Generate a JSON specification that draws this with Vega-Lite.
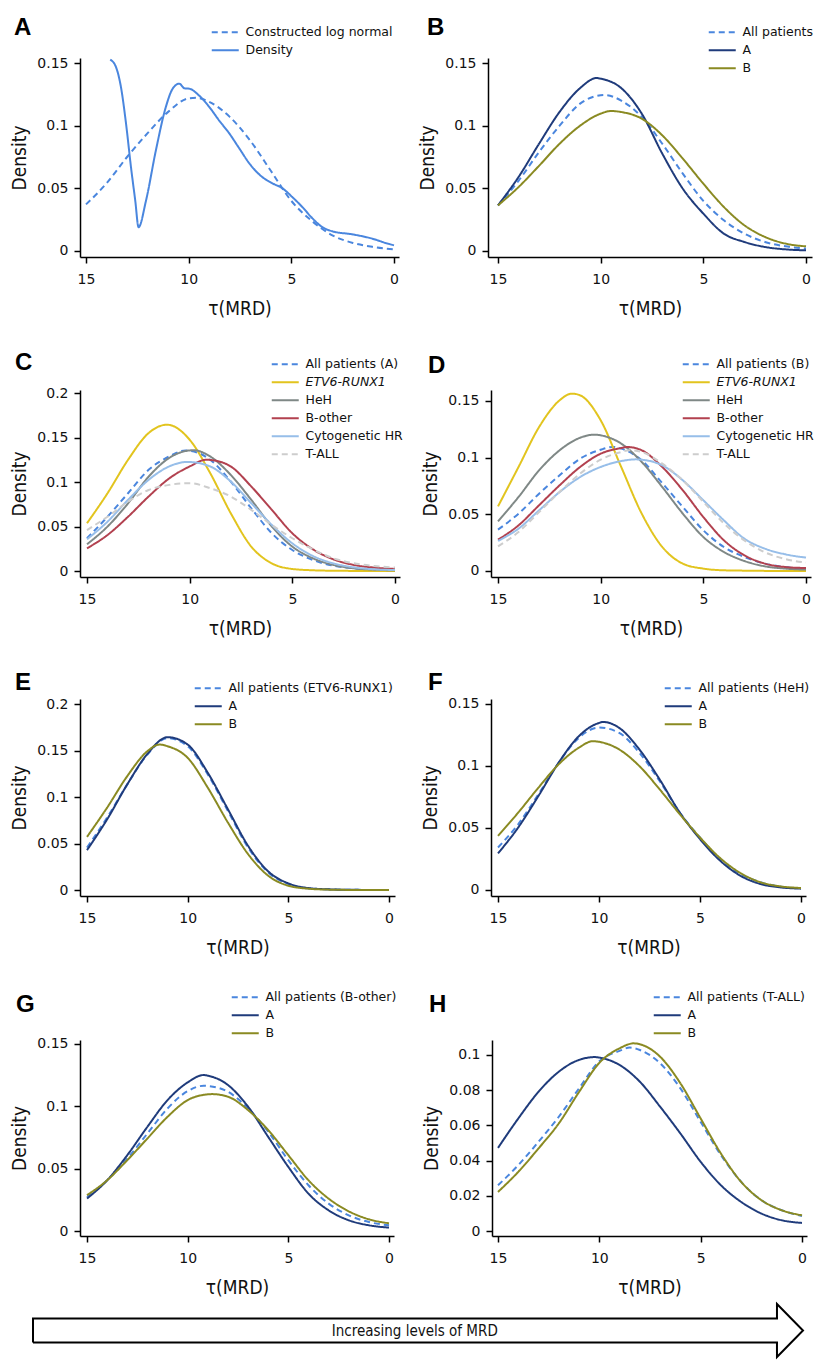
{
"$schema":"https://vega.github.io/schema/vega-lite/v6.json",
"background":"white",
"padding":{"left":10,"top":16,"right":5,"bottom":5},
"config":{
 "view":{"stroke":null},
 "font":"DejaVu Sans",
 "axis":{"grid":false,"domainColor":"#000","domainWidth":1.5,"tickColor":"#000","tickWidth":1.5,"tickSize":6,"labelFont":"DejaVu Sans","labelFontSize":14,"labelColor":"#111","titleFont":"DejaVu Sans Condensed","titleFontSize":19,"titleFontWeight":"normal","titleColor":"#111"},
 "axisX":{"labelBaseline":"alphabetic","labelPadding":20,"titleBaseline":"alphabetic","titleY":57,"format":"d","titleAlign":"center"},
 "axisY":{"labelPadding":6,"titleAngle":270,"titleBaseline":"bottom","titleX":-51,"format":"~g","titleAlign":"center"},
 "legend":{"labelFont":"DejaVu Sans","labelFontSize":12.5,"labelColor":"#111","labelLimit":400,"symbolSize":81,"symbolStrokeWidth":2,"labelOffset":14,"rowPadding":5,"padding":0},
 "title":{"font":"Liberation Sans","fontSize":24,"fontWeight":"bold","anchor":"start","frame":"group","color":"#000","baseline":"alphabetic","offset":0},
 "line":{"strokeWidth":2,"interpolate":"monotone"}
},
"data":{"values":[
{"panel":"A","series":"Constructed log normal","tau":15,"density":0.0372},
{"panel":"A","series":"Constructed log normal","tau":14,"density":0.054},
{"panel":"A","series":"Constructed log normal","tau":13,"density":0.075},
{"panel":"A","series":"Constructed log normal","tau":12,"density":0.094},
{"panel":"A","series":"Constructed log normal","tau":11,"density":0.111},
{"panel":"A","series":"Constructed log normal","tau":10,"density":0.1218},
{"panel":"A","series":"Constructed log normal","tau":9.6,"density":0.1222},
{"panel":"A","series":"Constructed log normal","tau":9,"density":0.119},
{"panel":"A","series":"Constructed log normal","tau":8,"density":0.107},
{"panel":"A","series":"Constructed log normal","tau":7,"density":0.088},
{"panel":"A","series":"Constructed log normal","tau":6,"density":0.064},
{"panel":"A","series":"Constructed log normal","tau":5,"density":0.040},
{"panel":"A","series":"Constructed log normal","tau":4,"density":0.024},
{"panel":"A","series":"Constructed log normal","tau":3,"density":0.0125},
{"panel":"A","series":"Constructed log normal","tau":2,"density":0.0064},
{"panel":"A","series":"Constructed log normal","tau":1,"density":0.0032},
{"panel":"A","series":"Constructed log normal","tau":0,"density":0.0013},
{"panel":"A","series":"Density","tau":13.82,"density":0.1527},
{"panel":"A","series":"Density","tau":13.54,"density":0.1468},
{"panel":"A","series":"Density","tau":13.3,"density":0.131},
{"panel":"A","series":"Density","tau":13.05,"density":0.1016},
{"panel":"A","series":"Density","tau":12.81,"density":0.067},
{"panel":"A","series":"Density","tau":12.6,"density":0.040},
{"panel":"A","series":"Density","tau":12.44,"density":0.019},
{"panel":"A","series":"Density","tau":12.08,"density":0.040},
{"panel":"A","series":"Density","tau":11.6,"density":0.080},
{"panel":"A","series":"Density","tau":11.11,"density":0.115},
{"panel":"A","series":"Density","tau":10.78,"density":0.1295},
{"panel":"A","series":"Density","tau":10.46,"density":0.1335},
{"panel":"A","series":"Density","tau":10.2,"density":0.1298},
{"panel":"A","series":"Density","tau":9.97,"density":0.1295},
{"panel":"A","series":"Density","tau":9.49,"density":0.124},
{"panel":"A","series":"Density","tau":9.0,"density":0.115},
{"panel":"A","series":"Density","tau":8.51,"density":0.104},
{"panel":"A","series":"Density","tau":8.03,"density":0.094},
{"panel":"A","series":"Density","tau":7.54,"density":0.082},
{"panel":"A","series":"Density","tau":7.05,"density":0.070},
{"panel":"A","series":"Density","tau":6.49,"density":0.060},
{"panel":"A","series":"Density","tau":5.92,"density":0.054},
{"panel":"A","series":"Density","tau":5.43,"density":0.050},
{"panel":"A","series":"Density","tau":4.95,"density":0.043},
{"panel":"A","series":"Density","tau":4.46,"density":0.035},
{"panel":"A","series":"Density","tau":3.97,"density":0.026},
{"panel":"A","series":"Density","tau":3.49,"density":0.019},
{"panel":"A","series":"Density","tau":3.0,"density":0.0157},
{"panel":"A","series":"Density","tau":2.03,"density":0.0133},
{"panel":"A","series":"Density","tau":1.05,"density":0.0098},
{"panel":"A","series":"Density","tau":0.41,"density":0.0064},
{"panel":"A","series":"Density","tau":0,"density":0.0045},
{"panel":"B","series":"All patients","tau":15,"density":0.0364},
{"panel":"B","series":"All patients","tau":14,"density":0.056},
{"panel":"B","series":"All patients","tau":13,"density":0.079},
{"panel":"B","series":"All patients","tau":12,"density":0.100},
{"panel":"B","series":"All patients","tau":11,"density":0.1176},
{"panel":"B","series":"All patients","tau":10,"density":0.1243},
{"panel":"B","series":"All patients","tau":9.8,"density":0.1245},
{"panel":"B","series":"All patients","tau":9,"density":0.120},
{"panel":"B","series":"All patients","tau":8,"density":0.107},
{"panel":"B","series":"All patients","tau":7,"density":0.0856},
{"panel":"B","series":"All patients","tau":6,"density":0.0617},
{"panel":"B","series":"All patients","tau":5,"density":0.040},
{"panel":"B","series":"All patients","tau":4,"density":0.0245},
{"panel":"B","series":"All patients","tau":3,"density":0.0138},
{"panel":"B","series":"All patients","tau":2,"density":0.0072},
{"panel":"B","series":"All patients","tau":1,"density":0.0037},
{"panel":"B","series":"All patients","tau":0,"density":0.0019},
{"panel":"B","series":"A","tau":15,"density":0.0364},
{"panel":"B","series":"A","tau":14,"density":0.059},
{"panel":"B","series":"A","tau":13,"density":0.0856},
{"panel":"B","series":"A","tau":12,"density":0.111},
{"panel":"B","series":"A","tau":11,"density":0.130},
{"panel":"B","series":"A","tau":10.2,"density":0.138},
{"panel":"B","series":"A","tau":10,"density":0.1375},
{"panel":"B","series":"A","tau":9,"density":0.130},
{"panel":"B","series":"A","tau":8,"density":0.1096},
{"panel":"B","series":"A","tau":7,"density":0.0777},
{"panel":"B","series":"A","tau":6,"density":0.0497},
{"panel":"B","series":"A","tau":5,"density":0.0298},
{"panel":"B","series":"A","tau":4,"density":0.0138},
{"panel":"B","series":"A","tau":3,"density":0.0072},
{"panel":"B","series":"A","tau":2,"density":0.0032},
{"panel":"B","series":"A","tau":1,"density":0.0013},
{"panel":"B","series":"A","tau":0,"density":0.0005},
{"panel":"B","series":"B","tau":15,"density":0.0364},
{"panel":"B","series":"B","tau":14,"density":0.051},
{"panel":"B","series":"B","tau":13,"density":0.068},
{"panel":"B","series":"B","tau":12,"density":0.0856},
{"panel":"B","series":"B","tau":11,"density":0.100},
{"panel":"B","series":"B","tau":10,"density":0.1096},
{"panel":"B","series":"B","tau":9.5,"density":0.1117},
{"panel":"B","series":"B","tau":9,"density":0.1109},
{"panel":"B","series":"B","tau":8,"density":0.1056},
{"panel":"B","series":"B","tau":7,"density":0.0923},
{"panel":"B","series":"B","tau":6,"density":0.0737},
{"panel":"B","series":"B","tau":5,"density":0.0537},
{"panel":"B","series":"B","tau":4,"density":0.0351},
{"panel":"B","series":"B","tau":3,"density":0.0205},
{"panel":"B","series":"B","tau":2,"density":0.0112},
{"panel":"B","series":"B","tau":1,"density":0.0059},
{"panel":"B","series":"B","tau":0,"density":0.0037},
{"panel":"C","series":"All patients (A)","tau":15,"density":0.0368},
{"panel":"C","series":"All patients (A)","tau":14,"density":0.061},
{"panel":"C","series":"All patients (A)","tau":13,"density":0.0874},
{"panel":"C","series":"All patients (A)","tau":12,"density":0.1137},
{"panel":"C","series":"All patients (A)","tau":11,"density":0.1287},
{"panel":"C","series":"All patients (A)","tau":10.2,"density":0.1355},
{"panel":"C","series":"All patients (A)","tau":10,"density":0.1352},
{"panel":"C","series":"All patients (A)","tau":9,"density":0.125},
{"panel":"C","series":"All patients (A)","tau":8,"density":0.1006},
{"panel":"C","series":"All patients (A)","tau":7,"density":0.0705},
{"panel":"C","series":"All patients (A)","tau":6,"density":0.0424},
{"panel":"C","series":"All patients (A)","tau":5,"density":0.0236},
{"panel":"C","series":"All patients (A)","tau":4,"density":0.0124},
{"panel":"C","series":"All patients (A)","tau":3,"density":0.006},
{"panel":"C","series":"All patients (A)","tau":2,"density":0.003},
{"panel":"C","series":"All patients (A)","tau":1,"density":0.0015},
{"panel":"C","series":"All patients (A)","tau":0,"density":0.0008},
{"panel":"C","series":"ETV6-RUNX1","tau":15,"density":0.0537},
{"panel":"C","series":"ETV6-RUNX1","tau":14,"density":0.0874},
{"panel":"C","series":"ETV6-RUNX1","tau":13,"density":0.125},
{"panel":"C","series":"ETV6-RUNX1","tau":12,"density":0.155},
{"panel":"C","series":"ETV6-RUNX1","tau":11.1,"density":0.1644},
{"panel":"C","series":"ETV6-RUNX1","tau":11,"density":0.1642},
{"panel":"C","series":"ETV6-RUNX1","tau":10,"density":0.1475},
{"panel":"C","series":"ETV6-RUNX1","tau":9,"density":0.110},
{"panel":"C","series":"ETV6-RUNX1","tau":8,"density":0.065},
{"panel":"C","series":"ETV6-RUNX1","tau":7,"density":0.0274},
{"panel":"C","series":"ETV6-RUNX1","tau":6,"density":0.0086},
{"panel":"C","series":"ETV6-RUNX1","tau":5,"density":0.0023},
{"panel":"C","series":"ETV6-RUNX1","tau":4,"density":0.0008},
{"panel":"C","series":"ETV6-RUNX1","tau":3,"density":0.0003},
{"panel":"C","series":"ETV6-RUNX1","tau":2,"density":0.0001},
{"panel":"C","series":"ETV6-RUNX1","tau":1,"density":0},
{"panel":"C","series":"ETV6-RUNX1","tau":0,"density":0},
{"panel":"C","series":"HeH","tau":15,"density":0.030},
{"panel":"C","series":"HeH","tau":14,"density":0.050},
{"panel":"C","series":"HeH","tau":13,"density":0.076},
{"panel":"C","series":"HeH","tau":12,"density":0.106},
{"panel":"C","series":"HeH","tau":11,"density":0.127},
{"panel":"C","series":"HeH","tau":10,"density":0.1355},
{"panel":"C","series":"HeH","tau":9.8,"density":0.1357},
{"panel":"C","series":"HeH","tau":9,"density":0.1287},
{"panel":"C","series":"HeH","tau":8,"density":0.108},
{"panel":"C","series":"HeH","tau":7,"density":0.080},
{"panel":"C","series":"HeH","tau":6,"density":0.050},
{"panel":"C","series":"HeH","tau":5,"density":0.0274},
{"panel":"C","series":"HeH","tau":4,"density":0.0143},
{"panel":"C","series":"HeH","tau":3,"density":0.0068},
{"panel":"C","series":"HeH","tau":2,"density":0.003},
{"panel":"C","series":"HeH","tau":1,"density":0.0015},
{"panel":"C","series":"HeH","tau":0,"density":0.0007},
{"panel":"C","series":"B-other","tau":15,"density":0.0255},
{"panel":"C","series":"B-other","tau":14,"density":0.0405},
{"panel":"C","series":"B-other","tau":13,"density":0.061},
{"panel":"C","series":"B-other","tau":12,"density":0.0837},
{"panel":"C","series":"B-other","tau":11,"density":0.104},
{"panel":"C","series":"B-other","tau":10,"density":0.1175},
{"panel":"C","series":"B-other","tau":9.2,"density":0.125},
{"panel":"C","series":"B-other","tau":9,"density":0.1248},
{"panel":"C","series":"B-other","tau":8,"density":0.1175},
{"panel":"C","series":"B-other","tau":7,"density":0.095},
{"panel":"C","series":"B-other","tau":6,"density":0.0687},
{"panel":"C","series":"B-other","tau":5,"density":0.0424},
{"panel":"C","series":"B-other","tau":4,"density":0.0244},
{"panel":"C","series":"B-other","tau":3,"density":0.0131},
{"panel":"C","series":"B-other","tau":2,"density":0.0068},
{"panel":"C","series":"B-other","tau":1,"density":0.0038},
{"panel":"C","series":"B-other","tau":0,"density":0.0023},
{"panel":"C","series":"Cytogenetic HR","tau":15,"density":0.0356},
{"panel":"C","series":"Cytogenetic HR","tau":14,"density":0.0555},
{"panel":"C","series":"Cytogenetic HR","tau":13,"density":0.080},
{"panel":"C","series":"Cytogenetic HR","tau":12,"density":0.1024},
{"panel":"C","series":"Cytogenetic HR","tau":11,"density":0.1175},
{"panel":"C","series":"Cytogenetic HR","tau":10.1,"density":0.1226},
{"panel":"C","series":"Cytogenetic HR","tau":10,"density":0.1225},
{"panel":"C","series":"Cytogenetic HR","tau":9,"density":0.1175},
{"panel":"C","series":"Cytogenetic HR","tau":8,"density":0.1006},
{"panel":"C","series":"Cytogenetic HR","tau":7,"density":0.0762},
{"panel":"C","series":"Cytogenetic HR","tau":6,"density":0.0518},
{"panel":"C","series":"Cytogenetic HR","tau":5,"density":0.0311},
{"panel":"C","series":"Cytogenetic HR","tau":4,"density":0.0169},
{"panel":"C","series":"Cytogenetic HR","tau":3,"density":0.0086},
{"panel":"C","series":"Cytogenetic HR","tau":2,"density":0.0041},
{"panel":"C","series":"Cytogenetic HR","tau":1,"density":0.0019},
{"panel":"C","series":"Cytogenetic HR","tau":0,"density":0.0011},
{"panel":"C","series":"T-ALL","tau":15,"density":0.046},
{"panel":"C","series":"T-ALL","tau":14,"density":0.061},
{"panel":"C","series":"T-ALL","tau":13,"density":0.078},
{"panel":"C","series":"T-ALL","tau":12,"density":0.091},
{"panel":"C","series":"T-ALL","tau":11,"density":0.0968},
{"panel":"C","series":"T-ALL","tau":10,"density":0.0987},
{"panel":"C","series":"T-ALL","tau":9,"density":0.093},
{"panel":"C","series":"T-ALL","tau":8,"density":0.0837},
{"panel":"C","series":"T-ALL","tau":7,"density":0.0687},
{"panel":"C","series":"T-ALL","tau":6,"density":0.0518},
{"panel":"C","series":"T-ALL","tau":5,"density":0.0368},
{"panel":"C","series":"T-ALL","tau":4,"density":0.0244},
{"panel":"C","series":"T-ALL","tau":3,"density":0.0143},
{"panel":"C","series":"T-ALL","tau":2,"density":0.0086},
{"panel":"C","series":"T-ALL","tau":1,"density":0.0056},
{"panel":"C","series":"T-ALL","tau":0,"density":0.0038},
{"panel":"D","series":"All patients (B)","tau":15,"density":0.0365},
{"panel":"D","series":"All patients (B)","tau":14,"density":0.0506},
{"panel":"D","series":"All patients (B)","tau":13,"density":0.0682},
{"panel":"D","series":"All patients (B)","tau":12,"density":0.0844},
{"panel":"D","series":"All patients (B)","tau":11,"density":0.0991},
{"panel":"D","series":"All patients (B)","tau":10,"density":0.107},
{"panel":"D","series":"All patients (B)","tau":9.4,"density":0.1095},
{"panel":"D","series":"All patients (B)","tau":9,"density":0.108},
{"panel":"D","series":"All patients (B)","tau":8,"density":0.0976},
{"panel":"D","series":"All patients (B)","tau":7,"density":0.0775},
{"panel":"D","series":"All patients (B)","tau":6,"density":0.0565},
{"panel":"D","series":"All patients (B)","tau":5,"density":0.0359},
{"panel":"D","series":"All patients (B)","tau":4,"density":0.0212},
{"panel":"D","series":"All patients (B)","tau":3,"density":0.0124},
{"panel":"D","series":"All patients (B)","tau":2,"density":0.0065},
{"panel":"D","series":"All patients (B)","tau":1,"density":0.0035},
{"panel":"D","series":"All patients (B)","tau":0,"density":0.0021},
{"panel":"D","series":"ETV6-RUNX1","tau":15,"density":0.057},
{"panel":"D","series":"ETV6-RUNX1","tau":14,"density":0.0918},
{"panel":"D","series":"ETV6-RUNX1","tau":13,"density":0.127},
{"panel":"D","series":"ETV6-RUNX1","tau":12,"density":0.1506},
{"panel":"D","series":"ETV6-RUNX1","tau":11.4,"density":0.1565},
{"panel":"D","series":"ETV6-RUNX1","tau":11,"density":0.155},
{"panel":"D","series":"ETV6-RUNX1","tau":10,"density":0.133},
{"panel":"D","series":"ETV6-RUNX1","tau":9,"density":0.0918},
{"panel":"D","series":"ETV6-RUNX1","tau":8,"density":0.0506},
{"panel":"D","series":"ETV6-RUNX1","tau":7,"density":0.0212},
{"panel":"D","series":"ETV6-RUNX1","tau":6,"density":0.0065},
{"panel":"D","series":"ETV6-RUNX1","tau":5,"density":0.0021},
{"panel":"D","series":"ETV6-RUNX1","tau":4,"density":0.0006},
{"panel":"D","series":"ETV6-RUNX1","tau":3,"density":0.0003},
{"panel":"D","series":"ETV6-RUNX1","tau":2,"density":0.0001},
{"panel":"D","series":"ETV6-RUNX1","tau":1,"density":0},
{"panel":"D","series":"ETV6-RUNX1","tau":0,"density":0},
{"panel":"D","series":"HeH","tau":15,"density":0.0438},
{"panel":"D","series":"HeH","tau":14,"density":0.0653},
{"panel":"D","series":"HeH","tau":13,"density":0.0888},
{"panel":"D","series":"HeH","tau":12,"density":0.1065},
{"panel":"D","series":"HeH","tau":11,"density":0.1176},
{"panel":"D","series":"HeH","tau":10.3,"density":0.1203},
{"panel":"D","series":"HeH","tau":10,"density":0.1197},
{"panel":"D","series":"HeH","tau":9,"density":0.1124},
{"panel":"D","series":"HeH","tau":8,"density":0.0962},
{"panel":"D","series":"HeH","tau":7,"density":0.0741},
{"panel":"D","series":"HeH","tau":6,"density":0.0506},
{"panel":"D","series":"HeH","tau":5,"density":0.030},
{"panel":"D","series":"HeH","tau":4,"density":0.0168},
{"panel":"D","series":"HeH","tau":3,"density":0.0088},
{"panel":"D","series":"HeH","tau":2,"density":0.0041},
{"panel":"D","series":"HeH","tau":1,"density":0.0021},
{"panel":"D","series":"HeH","tau":0,"density":0.0012},
{"panel":"D","series":"B-other","tau":15,"density":0.0276},
{"panel":"D","series":"B-other","tau":14,"density":0.0403},
{"panel":"D","series":"B-other","tau":13,"density":0.058},
{"panel":"D","series":"B-other","tau":12,"density":0.0756},
{"panel":"D","series":"B-other","tau":11,"density":0.0918},
{"panel":"D","series":"B-other","tau":10,"density":0.1035},
{"panel":"D","series":"B-other","tau":9,"density":0.1085},
{"panel":"D","series":"B-other","tau":8.7,"density":0.1094},
{"panel":"D","series":"B-other","tau":8,"density":0.1065},
{"panel":"D","series":"B-other","tau":7,"density":0.0918},
{"panel":"D","series":"B-other","tau":6,"density":0.0712},
{"panel":"D","series":"B-other","tau":5,"density":0.0476},
{"panel":"D","series":"B-other","tau":4,"density":0.0271},
{"panel":"D","series":"B-other","tau":3,"density":0.0138},
{"panel":"D","series":"B-other","tau":2,"density":0.0065},
{"panel":"D","series":"B-other","tau":1,"density":0.0035},
{"panel":"D","series":"B-other","tau":0,"density":0.0026},
{"panel":"D","series":"Cytogenetic HR","tau":15,"density":0.0265},
{"panel":"D","series":"Cytogenetic HR","tau":14,"density":0.0374},
{"panel":"D","series":"Cytogenetic HR","tau":13,"density":0.0535},
{"panel":"D","series":"Cytogenetic HR","tau":12,"density":0.0697},
{"panel":"D","series":"Cytogenetic HR","tau":11,"density":0.0829},
{"panel":"D","series":"Cytogenetic HR","tau":10,"density":0.0918},
{"panel":"D","series":"Cytogenetic HR","tau":9,"density":0.097},
{"panel":"D","series":"Cytogenetic HR","tau":8.3,"density":0.0985},
{"panel":"D","series":"Cytogenetic HR","tau":8,"density":0.0982},
{"panel":"D","series":"Cytogenetic HR","tau":7,"density":0.0932},
{"panel":"D","series":"Cytogenetic HR","tau":6,"density":0.080},
{"panel":"D","series":"Cytogenetic HR","tau":5,"density":0.0624},
{"panel":"D","series":"Cytogenetic HR","tau":4,"density":0.0447},
{"panel":"D","series":"Cytogenetic HR","tau":3,"density":0.0285},
{"panel":"D","series":"Cytogenetic HR","tau":2,"density":0.0197},
{"panel":"D","series":"Cytogenetic HR","tau":1,"density":0.0147},
{"panel":"D","series":"Cytogenetic HR","tau":0,"density":0.0118},
{"panel":"D","series":"T-ALL","tau":15,"density":0.0218},
{"panel":"D","series":"T-ALL","tau":14,"density":0.0344},
{"panel":"D","series":"T-ALL","tau":13,"density":0.052},
{"panel":"D","series":"T-ALL","tau":12,"density":0.0697},
{"panel":"D","series":"T-ALL","tau":11,"density":0.0859},
{"panel":"D","series":"T-ALL","tau":10,"density":0.0982},
{"panel":"D","series":"T-ALL","tau":9,"density":0.105},
{"panel":"D","series":"T-ALL","tau":8.6,"density":0.1065},
{"panel":"D","series":"T-ALL","tau":8,"density":0.105},
{"panel":"D","series":"T-ALL","tau":7,"density":0.0947},
{"panel":"D","series":"T-ALL","tau":6,"density":0.080},
{"panel":"D","series":"T-ALL","tau":5,"density":0.061},
{"panel":"D","series":"T-ALL","tau":4,"density":0.042},
{"panel":"D","series":"T-ALL","tau":3,"density":0.027},
{"panel":"D","series":"T-ALL","tau":2,"density":0.0165},
{"panel":"D","series":"T-ALL","tau":1,"density":0.0105},
{"panel":"D","series":"T-ALL","tau":0,"density":0.0075},
{"panel":"E","series":"All patients (ETV6-RUNX1)","tau":15,"density":0.0457},
{"panel":"E","series":"All patients (ETV6-RUNX1)","tau":14,"density":0.0779},
{"panel":"E","series":"All patients (ETV6-RUNX1)","tau":13,"density":0.1136},
{"panel":"E","series":"All patients (ETV6-RUNX1)","tau":12,"density":0.1457},
{"panel":"E","series":"All patients (ETV6-RUNX1)","tau":11,"density":0.1632},
{"panel":"E","series":"All patients (ETV6-RUNX1)","tau":10,"density":0.1546},
{"panel":"E","series":"All patients (ETV6-RUNX1)","tau":9,"density":0.1243},
{"panel":"E","series":"All patients (ETV6-RUNX1)","tau":8,"density":0.085},
{"panel":"E","series":"All patients (ETV6-RUNX1)","tau":7,"density":0.0457},
{"panel":"E","series":"All patients (ETV6-RUNX1)","tau":6,"density":0.0189},
{"panel":"E","series":"All patients (ETV6-RUNX1)","tau":5,"density":0.0064},
{"panel":"E","series":"All patients (ETV6-RUNX1)","tau":4,"density":0.0018},
{"panel":"E","series":"All patients (ETV6-RUNX1)","tau":3,"density":0.0007},
{"panel":"E","series":"All patients (ETV6-RUNX1)","tau":2,"density":0.0003},
{"panel":"E","series":"All patients (ETV6-RUNX1)","tau":1,"density":0.0001},
{"panel":"E","series":"All patients (ETV6-RUNX1)","tau":0,"density":0},
{"panel":"E","series":"A","tau":15,"density":0.0429},
{"panel":"E","series":"A","tau":14,"density":0.076},
{"panel":"E","series":"A","tau":13,"density":0.1136},
{"panel":"E","series":"A","tau":12,"density":0.1464},
{"panel":"E","series":"A","tau":11,"density":0.1643},
{"panel":"E","series":"A","tau":10,"density":0.1564},
{"panel":"E","series":"A","tau":9,"density":0.126},
{"panel":"E","series":"A","tau":8,"density":0.0868},
{"panel":"E","series":"A","tau":7,"density":0.0475},
{"panel":"E","series":"A","tau":6,"density":0.020},
{"panel":"E","series":"A","tau":5,"density":0.0071},
{"panel":"E","series":"A","tau":4,"density":0.0021},
{"panel":"E","series":"A","tau":3,"density":0.0007},
{"panel":"E","series":"A","tau":2,"density":0.0002},
{"panel":"E","series":"A","tau":1,"density":0.0001},
{"panel":"E","series":"A","tau":0,"density":0},
{"panel":"E","series":"B","tau":15,"density":0.0571},
{"panel":"E","series":"B","tau":14,"density":0.0886},
{"panel":"E","series":"B","tau":13,"density":0.1225},
{"panel":"E","series":"B","tau":12,"density":0.1493},
{"panel":"E","series":"B","tau":11.4,"density":0.1564},
{"panel":"E","series":"B","tau":11,"density":0.1546},
{"panel":"E","series":"B","tau":10,"density":0.1421},
{"panel":"E","series":"B","tau":9,"density":0.110},
{"panel":"E","series":"B","tau":8,"density":0.0725},
{"panel":"E","series":"B","tau":7,"density":0.0386},
{"panel":"E","series":"B","tau":6,"density":0.0154},
{"panel":"E","series":"B","tau":5,"density":0.0046},
{"panel":"E","series":"B","tau":4,"density":0.0014},
{"panel":"E","series":"B","tau":3,"density":0.0004},
{"panel":"E","series":"B","tau":2,"density":0.0001},
{"panel":"E","series":"B","tau":1,"density":0},
{"panel":"E","series":"B","tau":0,"density":0},
{"panel":"F","series":"All patients (HeH)","tau":15,"density":0.0343},
{"panel":"F","series":"All patients (HeH)","tau":14,"density":0.053},
{"panel":"F","series":"All patients (HeH)","tau":13,"density":0.0772},
{"panel":"F","series":"All patients (HeH)","tau":12,"density":0.1026},
{"panel":"F","series":"All patients (HeH)","tau":11,"density":0.1227},
{"panel":"F","series":"All patients (HeH)","tau":10,"density":0.131},
{"panel":"F","series":"All patients (HeH)","tau":9,"density":0.1267},
{"panel":"F","series":"All patients (HeH)","tau":8,"density":0.1106},
{"panel":"F","series":"All patients (HeH)","tau":7,"density":0.0879},
{"panel":"F","series":"All patients (HeH)","tau":6,"density":0.0624},
{"panel":"F","series":"All patients (HeH)","tau":5,"density":0.0423},
{"panel":"F","series":"All patients (HeH)","tau":4,"density":0.0249},
{"panel":"F","series":"All patients (HeH)","tau":3,"density":0.0129},
{"panel":"F","series":"All patients (HeH)","tau":2,"density":0.0062},
{"panel":"F","series":"All patients (HeH)","tau":1,"density":0.0027},
{"panel":"F","series":"All patients (HeH)","tau":0,"density":0.0013},
{"panel":"F","series":"A","tau":15,"density":0.0295},
{"panel":"F","series":"A","tau":14,"density":0.0504},
{"panel":"F","series":"A","tau":13,"density":0.0758},
{"panel":"F","series":"A","tau":12,"density":0.1026},
{"panel":"F","series":"A","tau":11,"density":0.124},
{"panel":"F","series":"A","tau":10,"density":0.1347},
{"panel":"F","series":"A","tau":9.8,"density":0.1355},
{"panel":"F","series":"A","tau":9,"density":0.1307},
{"panel":"F","series":"A","tau":8,"density":0.1133},
{"panel":"F","series":"A","tau":7,"density":0.0892},
{"panel":"F","series":"A","tau":6,"density":0.0624},
{"panel":"F","series":"A","tau":5,"density":0.041},
{"panel":"F","series":"A","tau":4,"density":0.0236},
{"panel":"F","series":"A","tau":3,"density":0.0115},
{"panel":"F","series":"A","tau":2,"density":0.0048},
{"panel":"F","series":"A","tau":1,"density":0.0021},
{"panel":"F","series":"A","tau":0,"density":0.0011},
{"panel":"F","series":"B","tau":15,"density":0.0437},
{"panel":"F","series":"B","tau":14,"density":0.0624},
{"panel":"F","series":"B","tau":13,"density":0.0825},
{"panel":"F","series":"B","tau":12,"density":0.1013},
{"panel":"F","series":"B","tau":11,"density":0.1147},
{"panel":"F","series":"B","tau":10.3,"density":0.120},
{"panel":"F","series":"B","tau":10,"density":0.1195},
{"panel":"F","series":"B","tau":9,"density":0.1133},
{"panel":"F","series":"B","tau":8,"density":0.0999},
{"panel":"F","series":"B","tau":7,"density":0.0812},
{"panel":"F","series":"B","tau":6,"density":0.0611},
{"panel":"F","series":"B","tau":5,"density":0.0423},
{"panel":"F","series":"B","tau":4,"density":0.0257},
{"panel":"F","series":"B","tau":3,"density":0.0137},
{"panel":"F","series":"B","tau":2,"density":0.0062},
{"panel":"F","series":"B","tau":1,"density":0.0029},
{"panel":"F","series":"B","tau":0,"density":0.0016},
{"panel":"G","series":"All patients (B-other)","tau":15,"density":0.0273},
{"panel":"G","series":"All patients (B-other)","tau":14,"density":0.0407},
{"panel":"G","series":"All patients (B-other)","tau":13,"density":0.0581},
{"panel":"G","series":"All patients (B-other)","tau":12,"density":0.0782},
{"panel":"G","series":"All patients (B-other)","tau":11,"density":0.0983},
{"panel":"G","series":"All patients (B-other)","tau":10,"density":0.1122},
{"panel":"G","series":"All patients (B-other)","tau":9.2,"density":0.1165},
{"panel":"G","series":"All patients (B-other)","tau":9,"density":0.1163},
{"panel":"G","series":"All patients (B-other)","tau":8,"density":0.1117},
{"panel":"G","series":"All patients (B-other)","tau":7,"density":0.0983},
{"panel":"G","series":"All patients (B-other)","tau":6,"density":0.0796},
{"panel":"G","series":"All patients (B-other)","tau":5,"density":0.0568},
{"panel":"G","series":"All patients (B-other)","tau":4,"density":0.0367},
{"panel":"G","series":"All patients (B-other)","tau":3,"density":0.022},
{"panel":"G","series":"All patients (B-other)","tau":2,"density":0.0126},
{"panel":"G","series":"All patients (B-other)","tau":1,"density":0.0072},
{"panel":"G","series":"All patients (B-other)","tau":0,"density":0.0046},
{"panel":"G","series":"A","tau":15,"density":0.026},
{"panel":"G","series":"A","tau":14,"density":0.0407},
{"panel":"G","series":"A","tau":13,"density":0.0608},
{"panel":"G","series":"A","tau":12,"density":0.0836},
{"panel":"G","series":"A","tau":11,"density":0.105},
{"panel":"G","series":"A","tau":10,"density":0.1192},
{"panel":"G","series":"A","tau":9.2,"density":0.1251},
{"panel":"G","series":"A","tau":9,"density":0.1246},
{"panel":"G","series":"A","tau":8,"density":0.1171},
{"panel":"G","series":"A","tau":7,"density":0.0997},
{"panel":"G","series":"A","tau":6,"density":0.0755},
{"panel":"G","series":"A","tau":5,"density":0.0514},
{"panel":"G","series":"A","tau":4,"density":0.030},
{"panel":"G","series":"A","tau":3,"density":0.0166},
{"panel":"G","series":"A","tau":2,"density":0.0086},
{"panel":"G","series":"A","tau":1,"density":0.0046},
{"panel":"G","series":"A","tau":0,"density":0.0027},
{"panel":"G","series":"B","tau":15,"density":0.0287},
{"panel":"G","series":"B","tau":14,"density":0.0407},
{"panel":"G","series":"B","tau":13,"density":0.0568},
{"panel":"G","series":"B","tau":12,"density":0.0742},
{"panel":"G","series":"B","tau":11,"density":0.0916},
{"panel":"G","series":"B","tau":10,"density":0.105},
{"panel":"G","series":"B","tau":9,"density":0.1096},
{"panel":"G","series":"B","tau":8.8,"density":0.1098},
{"panel":"G","series":"B","tau":8,"density":0.1077},
{"panel":"G","series":"B","tau":7,"density":0.097},
{"panel":"G","series":"B","tau":6,"density":0.0809},
{"panel":"G","series":"B","tau":5,"density":0.0608},
{"panel":"G","series":"B","tau":4,"density":0.0407},
{"panel":"G","series":"B","tau":3,"density":0.026},
{"panel":"G","series":"B","tau":2,"density":0.0158},
{"panel":"G","series":"B","tau":1,"density":0.0094},
{"panel":"G","series":"B","tau":0,"density":0.0062},
{"panel":"H","series":"All patients (T-ALL)","tau":15,"density":0.026},
{"panel":"H","series":"All patients (T-ALL)","tau":14,"density":0.0374},
{"panel":"H","series":"All patients (T-ALL)","tau":13,"density":0.0507},
{"panel":"H","series":"All patients (T-ALL)","tau":12,"density":0.0649},
{"panel":"H","series":"All patients (T-ALL)","tau":11,"density":0.081},
{"panel":"H","series":"All patients (T-ALL)","tau":10,"density":0.0965},
{"panel":"H","series":"All patients (T-ALL)","tau":9,"density":0.1023},
{"panel":"H","series":"All patients (T-ALL)","tau":8.5,"density":0.1042},
{"panel":"H","series":"All patients (T-ALL)","tau":8,"density":0.1028},
{"panel":"H","series":"All patients (T-ALL)","tau":7,"density":0.0953},
{"panel":"H","series":"All patients (T-ALL)","tau":6,"density":0.081},
{"panel":"H","series":"All patients (T-ALL)","tau":5,"density":0.062},
{"panel":"H","series":"All patients (T-ALL)","tau":4,"density":0.0431},
{"panel":"H","series":"All patients (T-ALL)","tau":3,"density":0.0279},
{"panel":"H","series":"All patients (T-ALL)","tau":2,"density":0.0175},
{"panel":"H","series":"All patients (T-ALL)","tau":1,"density":0.0118},
{"panel":"H","series":"All patients (T-ALL)","tau":0,"density":0.0085},
{"panel":"H","series":"A","tau":15,"density":0.0472},
{"panel":"H","series":"A","tau":14,"density":0.0639},
{"panel":"H","series":"A","tau":13,"density":0.0791},
{"panel":"H","series":"A","tau":12,"density":0.0905},
{"panel":"H","series":"A","tau":11,"density":0.0972},
{"panel":"H","series":"A","tau":10.2,"density":0.0988},
{"panel":"H","series":"A","tau":10,"density":0.0985},
{"panel":"H","series":"A","tau":9,"density":0.0943},
{"panel":"H","series":"A","tau":8,"density":0.0848},
{"panel":"H","series":"A","tau":7,"density":0.0706},
{"panel":"H","series":"A","tau":6,"density":0.0554},
{"panel":"H","series":"A","tau":5,"density":0.0393},
{"panel":"H","series":"A","tau":4,"density":0.026},
{"panel":"H","series":"A","tau":3,"density":0.0165},
{"panel":"H","series":"A","tau":2,"density":0.0099},
{"panel":"H","series":"A","tau":1,"density":0.0061},
{"panel":"H","series":"A","tau":0,"density":0.0046},
{"panel":"H","series":"B","tau":15,"density":0.0222},
{"panel":"H","series":"B","tau":14,"density":0.0336},
{"panel":"H","series":"B","tau":13,"density":0.0469},
{"panel":"H","series":"B","tau":12,"density":0.0611},
{"panel":"H","series":"B","tau":11,"density":0.079},
{"panel":"H","series":"B","tau":10,"density":0.0955},
{"panel":"H","series":"B","tau":9,"density":0.1038},
{"panel":"H","series":"B","tau":8.3,"density":0.1066},
{"panel":"H","series":"B","tau":8,"density":0.1061},
{"panel":"H","series":"B","tau":7,"density":0.099},
{"panel":"H","series":"B","tau":6,"density":0.0839},
{"panel":"H","series":"B","tau":5,"density":0.0639},
{"panel":"H","series":"B","tau":4,"density":0.044},
{"panel":"H","series":"B","tau":3,"density":0.0279},
{"panel":"H","series":"B","tau":2,"density":0.0175},
{"panel":"H","series":"B","tau":1,"density":0.0118},
{"panel":"H","series":"B","tau":0,"density":0.0089}
]},
"spacing":33,
"resolve":{"scale":{"color":"independent","strokeDash":"independent","x":"independent","y":"independent"},"legend":{"color":"independent","strokeDash":"independent"}},
"vconcat":[
 {"hconcat":[
  {"width":319,"height":199,"title":{"text":"A","dx":-66,"dy":18},
   "transform":[{"filter":"datum.panel === 'A'"}],
   "mark":{"type":"line","interpolate":"monotone","strokeWidth":2},
   "encoding":{
    "x":{"field":"tau","type":"quantitative","scale":{"domain":[15.292,-0.2435],"nice":false,"zero":false},"axis":{"values":[15,10,5,0],"title":"τ(MRD)","titleX":159.5}},
    "y":{"field":"density","type":"quantitative","scale":{"domain":[-0.0048,0.154],"nice":false,"zero":false},"axis":{"values":[0,0.05,0.1,0.15],"title":"Density","titleY":99.5}},
    "color":{"field":"series","type":"nominal","scale":{"domain":["Constructed log normal","Density"],"range":["#4a86de","#4a86de"]},"legend":{"title":null,"orient":"none","legendX":139,"legendY":-32,"symbolType":"M-3,0H3"}},
    "strokeDash":{"field":"series","type":"nominal","scale":{"domain":["Constructed log normal","Density"],"range":[[6,4],[1,0]]},"legend":{"title":null,"orient":"none","legendX":139,"legendY":-32,"symbolType":"M-3,0H3"}}
   }},
  {"width":324,"height":199,"title":{"text":"B","dx":-61,"dy":18},
   "transform":[{"filter":"datum.panel === 'B'"}],
   "mark":{"type":"line","interpolate":"monotone","strokeWidth":2},
   "encoding":{
    "x":{"field":"tau","type":"quantitative","scale":{"domain":[15.487,-0.292],"nice":false,"zero":false},"axis":{"values":[15,10,5,0],"title":"τ(MRD)","titleX":162}},
    "y":{"field":"density","type":"quantitative","scale":{"domain":[-0.0048,0.154],"nice":false,"zero":false},"axis":{"values":[0,0.05,0.1,0.15],"title":"Density","titleY":99.5}},
    "color":{"field":"series","type":"nominal","scale":{"domain":["All patients","A","B"],"range":["#4a86de","#1f3b7b","#8a8a22"]},"legend":{"title":null,"orient":"none","legendX":228,"legendY":-32,"symbolType":"M-3,0H3"}},
    "strokeDash":{"field":"series","type":"nominal","scale":{"domain":["All patients","A","B"],"range":[[6,4],[1,0],[1,0]]},"legend":{"title":null,"orient":"none","legendX":228,"legendY":-32,"symbolType":"M-3,0H3"}}
   }}
 ],"spacing":89,"bounds":"flush","resolve":{"scale":{"color":"independent","strokeDash":"independent","x":"independent","y":"independent"},"legend":{"color":"independent","strokeDash":"independent"}}},
 {"vconcat":[
  {"hconcat":[
   {"width":320,"height":187,"title":{"text":"C","dx":-65,"dy":21},
    "transform":[{"filter":"datum.panel === 'C'"}],
    "mark":{"type":"line","interpolate":"monotone","strokeWidth":2},
    "encoding":{
     "x":{"field":"tau","type":"quantitative","scale":{"domain":[15.341,-0.2435],"nice":false,"zero":false},"axis":{"values":[15,10,5,0],"title":"τ(MRD)","titleX":160}},
     "y":{"field":"density","type":"quantitative","scale":{"domain":[-0.00674,0.2034],"nice":false,"zero":false},"axis":{"values":[0,0.05,0.1,0.15,0.2],"title":"Density","titleY":93.5}},
     "color":{"field":"series","type":"nominal","scale":{"domain":["All patients (A)","ETV6-RUNX1","HeH","B-other","Cytogenetic HR","T-ALL"],"range":["#4a86de","#e2c41e","#7f8886","#b2414f","#97bee9","#cdcdcd"]},"legend":{"title":null,"orient":"none","legendX":199,"legendY":-32,"symbolType":"M-3,0H3","labelFontStyle":{"expr":"datum.label === 'ETV6-RUNX1' ? 'italic' : 'normal'"}}},
     "strokeDash":{"field":"series","type":"nominal","scale":{"domain":["All patients (A)","ETV6-RUNX1","HeH","B-other","Cytogenetic HR","T-ALL"],"range":[[6,4],[1,0],[1,0],[1,0],[1,0],[6,4]]},"legend":{"title":null,"orient":"none","legendX":199,"legendY":-32,"symbolType":"M-3,0H3","labelFontStyle":{"expr":"datum.label === 'ETV6-RUNX1' ? 'italic' : 'normal'"}}}
    }},
   {"width":320,"height":187,"title":{"text":"D","dx":-63,"dy":24},
    "transform":[{"filter":"datum.panel === 'D'"}],
    "mark":{"type":"line","interpolate":"monotone","strokeWidth":2},
    "encoding":{
     "x":{"field":"tau","type":"quantitative","scale":{"domain":[15.341,-0.2435],"nice":false,"zero":false},"axis":{"values":[15,10,5,0],"title":"τ(MRD)","titleX":160}},
     "y":{"field":"density","type":"quantitative","scale":{"domain":[-0.0053,0.1597],"nice":false,"zero":false},"axis":{"values":[0,0.05,0.1,0.15],"title":"Density","titleY":93.5}},
     "color":{"field":"series","type":"nominal","scale":{"domain":["All patients (B)","ETV6-RUNX1","HeH","B-other","Cytogenetic HR","T-ALL"],"range":["#4a86de","#e2c41e","#7f8886","#b2414f","#97bee9","#cdcdcd"]},"legend":{"title":null,"orient":"none","legendX":199,"legendY":-32,"symbolType":"M-3,0H3","labelFontStyle":{"expr":"datum.label === 'ETV6-RUNX1' ? 'italic' : 'normal'"}}},
     "strokeDash":{"field":"series","type":"nominal","scale":{"domain":["All patients (B)","ETV6-RUNX1","HeH","B-other","Cytogenetic HR","T-ALL"],"range":[[6,4],[1,0],[1,0],[1,0],[1,0],[6,4]]},"legend":{"title":null,"orient":"none","legendX":199,"legendY":-32,"symbolType":"M-3,0H3","labelFontStyle":{"expr":"datum.label === 'ETV6-RUNX1' ? 'italic' : 'normal'"}}}
    }}
  ],"spacing":91,"bounds":"flush","resolve":{"scale":{"color":"independent","strokeDash":"independent","x":"independent","y":"independent"},"legend":{"color":"independent","strokeDash":"independent"}}},
  {"vconcat":[
   {"hconcat":[
    {"width":315,"height":197,"title":{"text":"E","dx":-65,"dy":17},
     "transform":[{"filter":"datum.panel === 'E'"}],
     "mark":{"type":"line","interpolate":"monotone","strokeWidth":2},
     "encoding":{
      "x":{"field":"tau","type":"quantitative","scale":{"domain":[15.348,-0.298],"nice":false,"zero":false},"axis":{"values":[15,10,5,0],"title":"τ(MRD)","titleX":157.5}},
      "y":{"field":"density","type":"quantitative","scale":{"domain":[-0.00645,0.2054],"nice":false,"zero":false},"axis":{"values":[0,0.05,0.1,0.15,0.2],"title":"Density","titleY":98.5}},
      "color":{"field":"series","type":"nominal","scale":{"domain":["All patients (ETV6-RUNX1)","A","B"],"range":["#4a86de","#1f3b7b","#8a8a22"]},"legend":{"title":null,"orient":"none","legendX":122,"legendY":-17,"symbolType":"M-3,0H3"}},
      "strokeDash":{"field":"series","type":"nominal","scale":{"domain":["All patients (ETV6-RUNX1)","A","B"],"range":[[6,4],[1,0],[1,0]]},"legend":{"title":null,"orient":"none","legendX":122,"legendY":-17,"symbolType":"M-3,0H3"}}
     }},
    {"width":315,"height":197,"title":{"text":"F","dx":-63,"dy":17},
     "transform":[{"filter":"datum.panel === 'F'"}],
     "mark":{"type":"line","interpolate":"monotone","strokeWidth":2},
     "encoding":{
      "x":{"field":"tau","type":"quantitative","scale":{"domain":[15.347,-0.2475],"nice":false,"zero":false},"axis":{"values":[15,10,5,0],"title":"τ(MRD)","titleX":157.5}},
      "y":{"field":"density","type":"quantitative","scale":{"domain":[-0.00484,0.154],"nice":false,"zero":false},"axis":{"values":[0,0.05,0.1,0.15],"title":"Density","titleY":98.5}},
      "color":{"field":"series","type":"nominal","scale":{"domain":["All patients (HeH)","A","B"],"range":["#4a86de","#1f3b7b","#8a8a22"]},"legend":{"title":null,"orient":"none","legendX":181,"legendY":-17,"symbolType":"M-3,0H3"}},
      "strokeDash":{"field":"series","type":"nominal","scale":{"domain":["All patients (HeH)","A","B"],"range":[[6,4],[1,0],[1,0]]},"legend":{"title":null,"orient":"none","legendX":181,"legendY":-17,"symbolType":"M-3,0H3"}}
     }}
   ],"spacing":96,"bounds":"flush","resolve":{"scale":{"color":"independent","strokeDash":"independent","x":"independent","y":"independent"},"legend":{"color":"independent","strokeDash":"independent"}}},
   {"vconcat":[
    {"hconcat":[
     {"width":314,"height":196,"title":{"text":"G","dx":-64,"dy":30},
      "transform":[{"filter":"datum.panel === 'G'"}],
      "mark":{"type":"line","interpolate":"monotone","strokeWidth":2},
      "encoding":{
       "x":{"field":"tau","type":"quantitative","scale":{"domain":[15.348,-0.248],"nice":false,"zero":false},"axis":{"values":[15,10,5,0],"title":"τ(MRD)","titleX":157}},
       "y":{"field":"density","type":"quantitative","scale":{"domain":[-0.004,0.1532],"nice":false,"zero":false},"axis":{"values":[0,0.05,0.1,0.15],"title":"Density","titleY":98}},
       "color":{"field":"series","type":"nominal","scale":{"domain":["All patients (B-other)","A","B"],"range":["#4a86de","#1f3b7b","#8a8a22"]},"legend":{"title":null,"orient":"none","legendX":159,"legendY":-49,"symbolType":"M-3,0H3"}},
       "strokeDash":{"field":"series","type":"nominal","scale":{"domain":["All patients (B-other)","A","B"],"range":[[6,4],[1,0],[1,0]]},"legend":{"title":null,"orient":"none","legendX":159,"legendY":-49,"symbolType":"M-3,0H3"}}
      }},
     {"width":315,"height":196,"title":{"text":"H","dx":-63,"dy":30},
      "transform":[{"filter":"datum.panel === 'H'"}],
      "mark":{"type":"line","interpolate":"monotone","strokeWidth":2},
      "encoding":{
       "x":{"field":"tau","type":"quantitative","scale":{"domain":[15.296,-0.247],"nice":false,"zero":false},"axis":{"values":[15,10,5,0],"title":"τ(MRD)","titleX":157.5}},
       "y":{"field":"density","type":"quantitative","scale":{"domain":[-0.00284,0.1085],"nice":false,"zero":false},"axis":{"values":[0,0.02,0.04,0.06,0.08,0.1],"title":"Density","titleY":98}},
       "color":{"field":"series","type":"nominal","scale":{"domain":["All patients (T-ALL)","A","B"],"range":["#4a86de","#1f3b7b","#8a8a22"]},"legend":{"title":null,"orient":"none","legendX":169,"legendY":-49,"symbolType":"M-3,0H3"}},
       "strokeDash":{"field":"series","type":"nominal","scale":{"domain":["All patients (T-ALL)","A","B"],"range":[[6,4],[1,0],[1,0]]},"legend":{"title":null,"orient":"none","legendX":169,"legendY":-49,"symbolType":"M-3,0H3"}}
      }}
    ],"spacing":98,"bounds":"flush","resolve":{"scale":{"color":"independent","strokeDash":"independent","x":"independent","y":"independent"},"legend":{"color":"independent","strokeDash":"independent"}}},
    {"width":723,"height":53,
     "data":{"values":[
      {"along":-6.5,"across":0.275,"step":1},
      {"along":96.4,"across":0.275,"step":2},
      {"along":96.4,"across":0,"step":3},
      {"along":100,"across":0.5,"step":4},
      {"along":96.4,"across":1,"step":5},
      {"along":96.4,"across":0.725,"step":6},
      {"along":-6.5,"across":0.725,"step":7},
      {"along":-6.5,"across":0.275,"step":8}
     ]},
     "layer":[
      {"mark":{"type":"line","color":"#000","strokeWidth":2,"strokeJoin":"miter","interpolate":"linear"},
       "encoding":{"x":{"field":"along","type":"quantitative","scale":{"domain":[0,100],"nice":false,"zero":false},"axis":null},"y":{"field":"across","type":"quantitative","scale":{"domain":[0,1],"nice":false,"zero":false},"axis":null},"order":{"field":"step","type":"quantitative"}}},
      {"data":{"values":[{"label":"Increasing levels of MRD","along":46.3,"across":0.5}]},
       "mark":{"type":"text","font":"DejaVu Sans Condensed","fontSize":15,"baseline":"middle","align":"center","color":"#111"},
       "encoding":{"x":{"field":"along","type":"quantitative"},"y":{"field":"across","type":"quantitative"},"text":{"field":"label"}}}
     ]}
   ],"spacing":3,"resolve":{"scale":{"color":"independent","strokeDash":"independent","x":"independent","y":"independent"},"legend":{"color":"independent","strokeDash":"independent"}}}
  ],"spacing":34,"resolve":{"scale":{"color":"independent","strokeDash":"independent","x":"independent","y":"independent"},"legend":{"color":"independent","strokeDash":"independent"}}}
 ],"spacing":33,"resolve":{"scale":{"color":"independent","strokeDash":"independent","x":"independent","y":"independent"},"legend":{"color":"independent","strokeDash":"independent"}}}
]
}
